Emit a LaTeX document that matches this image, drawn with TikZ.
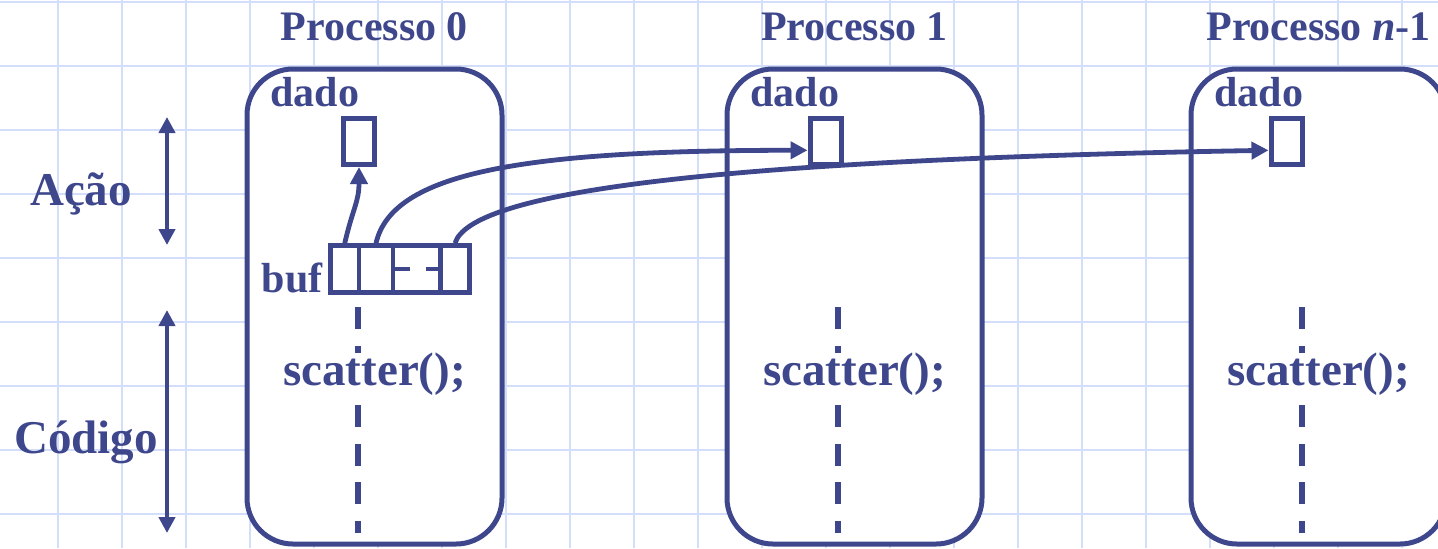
\documentclass[tikz,border=0pt]{standalone}
\usepackage{fontspec}
\setmainfont{Liberation Serif}
\usepackage{tikz}
\usetikzlibrary{arrows.meta,positioning}

\definecolor{procblue}{RGB}{62,70,140}
\definecolor{gridblue}{RGB}{210,222,250}

\tikzset{
  gridline/.style={gridblue, line width=1pt},
  procbox/.style={draw=procblue, fill=white, line width=2.5pt, rounded corners=23pt,
    minimum width=127.5pt, minimum height=237.5pt, inner sep=0pt},
  slot/.style={draw=procblue, fill=white, line width=2.5pt,
    minimum width=15.5pt, minimum height=23pt, inner sep=0pt},
  cell/.style={draw=procblue, line width=2.25pt, minimum height=23.5pt, inner sep=0pt},
  lbl/.style={procblue, font=\fontsize{21}{25}\selectfont\bfseries, inner sep=0pt},
  biglbl/.style={procblue, font=\fontsize{23.5}{28}\selectfont\bfseries, inner sep=0pt},
  msg/.style={procblue, line width=2.4pt, -{Triangle[length=8.5pt,width=8.5pt]}},
  spanarrow/.style={procblue, line width=2.3pt,
    {Triangle[length=8pt,width=8pt]}-{Triangle[length=8pt,width=8pt]}},
  timeline/.style={procblue, line width=3pt, dash pattern=on 11pt off 8.25pt},
}

\begin{document}
\begin{tikzpicture}[x=0.5pt, y=-0.5pt]
  \useasboundingbox (0,0) rectangle (1438,548);

  % squared paper
  \foreach \x in {58,122,...,1402}
    \draw[gridline] (\x,0) -- (\x,548);
  \foreach \y in {2,66,...,514}
    \draw[gridline] (0,\y) -- (1438,\y);

  % one box per process: title, dado slot, scatter() on its timeline
  \foreach \i/\cx/\dx/\title in {0/374.5/359/{Processo 0},
      1/854.5/825.5/{Processo 1},
      2/1318.5/1286.5/{Processo \textit{n}-1}} {
    \node[procbox] (p\i) at (\cx,306.5) {};
    \node[lbl, anchor=base] (t\i) at (\cx,40) {\title};
    \node[lbl, anchor=base west] (l\i) at (\cx-104.5,106) {dado};
    \node[slot] (d\i) at (\dx,141.5) {};
    \draw[timeline] (\cx-16.5,307) -- (\cx-16.5,353);
    \draw[timeline] (\cx-16.5,405) -- (\cx-16.5,533);
    \node[biglbl, anchor=base] (s\i) at (\cx,385) {scatter();};
  }

  % send buffer of process 0
  \node[cell, minimum width=14.25pt] (b1) at (344.75,269) {};
  \node[cell, minimum width=17pt] (b2) at (376,269) {};
  \node[cell, minimum width=23.75pt] (b3) at (416.75,269) {};
  \node[cell, minimum width=14.5pt] (b4) at (455,269) {};
  \draw[procblue, line width=2.25pt, dash pattern=on 9.5pt off 8pt] (b3.west) -- (b3.east);
  \node[lbl, anchor=base east] (buf) at (323,292) {buf};

  % pieces of buf going out to each process
  \draw[msg] (b1.north) .. controls +(8,-35) and +(0,35) .. (d0.south);
  \draw[msg] (b2.north) .. controls +(16,-70) and +(-288,0) .. (d1.206);
  \draw[msg] (b4.north) .. controls +(15,-50) and +(-569,10) .. (d2.206);

  % action / code spans on the left
  \coordinate (acttop) at (167,117);
  \coordinate (actbot) at (167,245);
  \coordinate (codtop) at (167,310);
  \coordinate (codbot) at (167,533);
  \draw[spanarrow] (acttop) -- (actbot);
  \draw[spanarrow] (codtop) -- (codbot);
  \node[biglbl, anchor=base] (acao) at (81,205) {Ação};
  \node[biglbl, anchor=base] (codigo) at (86,453) {Código};
\end{tikzpicture}
\end{document}
